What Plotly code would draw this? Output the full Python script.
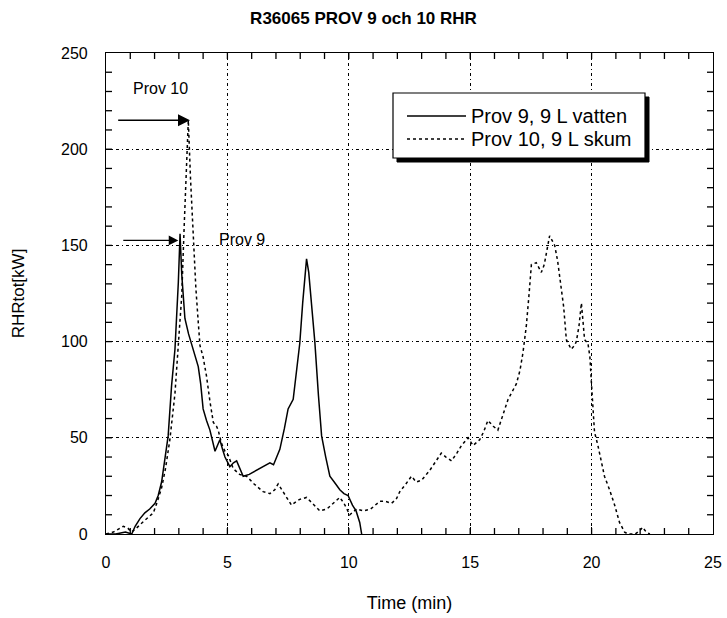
import plotly.graph_objects as go

# Prov 9, 9 L vatten (solid)
t9 = [0, 0.4, 0.8, 1.06, 1.2, 1.4, 1.6, 1.8, 2.02, 2.15, 2.29, 2.4, 2.56, 2.7, 2.84, 2.98, 3.02, 3.05,
      3.12, 3.25, 3.4, 3.59, 3.7, 3.8, 3.9, 4.0, 4.14, 4.28, 4.49, 4.6, 4.69, 4.8, 4.9, 5.1, 5.25, 5.38,
      5.5, 5.65, 5.9, 6.2, 6.45, 6.75, 6.9, 7.16, 7.35, 7.5, 7.71, 7.85, 7.98, 8.1, 8.26, 8.35, 8.47,
      8.6, 8.75, 8.88, 9.05, 9.22, 9.4, 9.63, 9.8, 9.97, 10.15, 10.3, 10.45, 10.53]
p9 = [0, 0, 1, 0, 4, 8, 11, 13, 16, 20, 27, 36, 51, 77, 96, 131, 150, 156,
      135, 112, 104, 96, 92, 87, 78, 65, 59, 54, 43, 46, 49, 44, 40, 35, 37, 38,
      34, 30, 31, 33, 35, 37, 36, 44, 55, 65, 70, 84, 99, 120, 143, 136, 118,
      100, 72, 51, 40, 30, 27, 23, 21, 20, 15, 12, 6, 0]

# Prov 10, 9 L skum (dotted)
t10 = [0, 0.3, 0.71, 0.9, 1.05, 1.25, 1.5, 1.75, 1.95, 2.12, 2.29, 2.45, 2.63, 2.84, 2.98, 3.12, 3.22,
       3.32, 3.39, 3.48, 3.59, 3.7, 3.8, 3.87, 4.0, 4.14, 4.28, 4.42, 4.55, 4.62, 4.76, 4.9, 5.03, 5.24,
       5.5, 5.79, 6.1, 6.47, 6.75, 6.95, 7.09, 7.3, 7.64, 7.85, 7.98, 8.26, 8.5, 8.81, 9.1, 9.35, 9.63,
       9.8, 10.04, 10.32, 10.6, 10.9, 11.1, 11.28, 11.5, 11.76, 11.95, 12.1, 12.35, 12.58, 12.78, 13.0,
       13.33, 13.55, 13.81, 14.0, 14.23, 14.45, 14.64, 14.91, 15.12, 15.39, 15.55, 15.73, 15.95, 16.14,
       16.35, 16.56, 16.9, 17.05, 17.17, 17.31, 17.42, 17.52, 17.72, 17.93, 18.05, 18.14, 18.27, 18.4,
       18.48, 18.6, 18.75, 18.85, 18.96, 19.16, 19.3, 19.37, 19.48, 19.58, 19.65, 19.71, 19.85, 19.93,
       19.99, 20.06, 20.12, 20.26, 20.4, 20.53, 20.74, 20.95, 21.15, 21.36, 21.5, 21.8, 22.0, 22.1,
       22.25, 22.4]
p10 = [0, 1, 4, 3, 1, 3, 6, 9, 11, 17, 24, 34, 49, 73, 99, 124, 160,
       195, 215, 185, 153, 128, 110, 98, 92, 82, 69, 58, 56, 54, 47, 43, 41, 34,
       31, 30, 26, 22, 21, 23, 26, 22, 15, 17, 18, 19, 16, 12, 13, 16, 19,
       16, 10, 13, 12, 13, 15, 17, 17, 16, 18, 22, 26, 30, 27, 28,
       33, 37, 42, 40, 38, 42, 46, 50, 46, 49, 53, 59, 56, 54,
       62, 70, 78, 85, 94, 108, 124, 140, 141, 136, 140, 146, 155, 152,
       150, 142, 129, 118, 101, 96, 98, 100, 108, 120, 110, 101, 99, 92,
       79, 66, 53, 46, 38, 30, 23, 15, 6, 1, 0, 0, 2, 3.5,
       1, 0]

x_ticks = [0, 5, 10, 15, 20, 25]
y_ticks = [0, 50, 100, 150, 200, 250]
x_minor_step = 1
y_minor_step = 10
legend_names = ["Prov 9, 9 L vatten", "Prov 10, 9 L skum"]

FONT = "Liberation Sans, Arial, Helvetica, sans-serif"

# plot-area geometry in pixels (for paper-coordinate helpers)
L, R, T, B = 106, 713, 53, 534
W, H = 727, 618
TICK_PX = 6


def px_to_paper(px, py):
    return (px - L) / (R - L), (B - py) / (B - T)


fig = go.Figure()
fig.add_trace(go.Scatter(x=t9, y=p9, mode="lines", name=legend_names[0],
                         line=dict(color="black", width=1.5), showlegend=False))
fig.add_trace(go.Scatter(x=t10, y=p10, mode="lines", name=legend_names[1],
                         line=dict(color="black", width=1.5, dash="3px,3px"), showlegend=False))

# inward minor tick marks on all four sides (axis decoration)
tick_line = dict(color="black", width=1.3)
fy = TICK_PX / (B - T)
fx = TICK_PX / (R - L)
n_x = int(round((x_ticks[-1] - x_ticks[0]) / x_minor_step))
for k in range(1, n_x):
    xv = x_ticks[0] + k * x_minor_step
    fig.add_shape(type="line", xref="x", yref="paper", x0=xv, x1=xv, y0=0, y1=fy,
                  line=tick_line, layer="above")
    fig.add_shape(type="line", xref="x", yref="paper", x0=xv, x1=xv, y0=1 - fy, y1=1,
                  line=tick_line, layer="above")
n_y = int(round((y_ticks[-1] - y_ticks[0]) / y_minor_step))
for k in range(1, n_y):
    yv = y_ticks[0] + k * y_minor_step
    fig.add_shape(type="line", xref="paper", yref="y", x0=0, x1=fx, y0=yv, y1=yv,
                  line=tick_line, layer="above")
    fig.add_shape(type="line", xref="paper", yref="y", x0=1 - fx, x1=1, y0=yv, y1=yv,
                  line=tick_line, layer="above")

# manual legend with drop shadow
lx0, ly1 = px_to_paper(393, 93)
lx1, ly0 = px_to_paper(645, 158)
sx0, sy1 = px_to_paper(397, 97)
sx1, sy0 = px_to_paper(649, 162)
fig.add_shape(type="rect", xref="paper", yref="paper", x0=sx0, x1=sx1, y0=sy0, y1=sy1,
              fillcolor="black", line=dict(color="black", width=1), layer="above")
fig.add_shape(type="rect", xref="paper", yref="paper", x0=lx0, x1=lx1, y0=ly0, y1=ly1,
              fillcolor="white", line=dict(color="black", width=1.2), layer="above")
for i, (yy, dash) in enumerate([(116, "solid"), (139, "3px,3px")]):
    ax0, ay = px_to_paper(407, yy)
    ax1, _ = px_to_paper(466, yy)
    fig.add_shape(type="line", xref="paper", yref="paper", x0=ax0, x1=ax1, y0=ay, y1=ay,
                  line=dict(color="black", width=1.4, dash=dash), layer="above")
    tx, _ = px_to_paper(469, yy)
    fig.add_annotation(xref="paper", yref="paper", x=tx, y=ay, text=legend_names[i],
                       showarrow=False, xanchor="left", yanchor="middle",
                       font=dict(family=FONT, size=20, color="black"))

# arrows and labels
fig.add_annotation(x=3.46, y=215, ax=0.44, ay=215, xref="x", yref="y", axref="x", ayref="y",
                   showarrow=True, arrowhead=2, arrowsize=1.6, arrowwidth=1.5, arrowcolor="black", text="")
fig.add_annotation(x=2.98, y=152.6, ax=0.65, ay=152.6, xref="x", yref="y", axref="x", ayref="y",
                   showarrow=True, arrowhead=2, arrowsize=1.6, arrowwidth=1.2, arrowcolor="black", text="")
fig.add_annotation(x=2.26, y=231.6, text="Prov 10", showarrow=False,
                   font=dict(family=FONT, size=16, color="black"))
fig.add_annotation(x=5.62, y=153.3, text="Prov 9", showarrow=False,
                   font=dict(family=FONT, size=16, color="black"))

axis_common = dict(
    showline=True, linecolor="black", linewidth=1.2, mirror="allticks",
    ticks="inside", ticklen=7, tickcolor="black", tickwidth=1.3,
    showgrid=True, gridcolor="black", gridwidth=1, griddash="3px,3px,1px,3px",
    zeroline=False,
    tickfont=dict(family=FONT, size=16, color="black"),
)

fig.update_xaxes(**axis_common, range=[x_ticks[0], x_ticks[-1]],
                 tickmode="array", tickvals=x_ticks, ticktext=[str(v) for v in x_ticks],
                 ticklabelstandoff=14,
                 title=dict(text="Time (min)", font=dict(family=FONT, size=18, color="black"), standoff=26))
fig.update_yaxes(**axis_common, range=[y_ticks[0], y_ticks[-1]],
                 tickmode="array", tickvals=y_ticks, ticktext=[str(v) for v in y_ticks],
                 ticklabelstandoff=14,
                 title=dict(text="RHRtot[kW]", font=dict(family=FONT, size=17, color="black"), standoff=32))

fig.update_layout(
    width=W, height=H,
    margin=dict(l=L, r=W - R, t=T, b=H - B, autoexpand=False),
    paper_bgcolor="white", plot_bgcolor="white",
    title=dict(text="<b>R36065 PROV 9 och 10 RHR</b>", x=0.5, xanchor="center",
               y=1 - 18 / H, yanchor="middle", font=dict(family=FONT, size=17, color="black")),
    showlegend=False,
)

fig.write_html("out.html")
